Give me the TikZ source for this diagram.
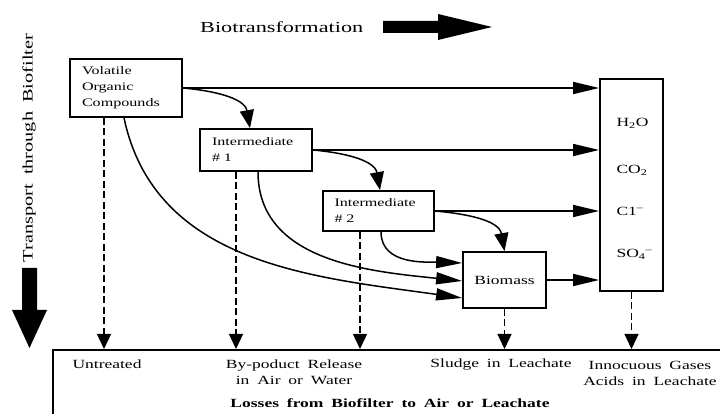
\documentclass[tikz,border=0pt]{standalone}
\usepackage{fontspec}
\usepackage{graphicx}
\setmainfont{Liberation Serif}[FakeStretch=1.4,WordSpace=1.8]
\usetikzlibrary{arrows.meta}

\tikzset{
  box/.style={draw, line width=1.8pt, inner sep=0pt},
  flow/.style={line width=1.5pt, -{Triangle[length=26pt,width=12pt]}},
  turn/.style={line width=1.5pt, -{Triangle[length=18pt,width=14pt]}},
  drop/.style={line width=1.3pt, dash pattern=on 7pt off 3.5pt, -{Triangle[length=15pt,width=14pt]}},
  lbl/.style={font=\fontsize{12.5}{16}\selectfont, align=center},
  inbox/.style={font=\fontsize{11.5}{16}\selectfont, align=left},
}

\begin{document}
\begin{tikzpicture}[x=1pt,y=1pt]
	\useasboundingbox (0,0) rectangle (720,414);
	% die beiden richtungen
	\node[anchor=west, inner sep=0pt] (biotr) at (200,387) {\resizebox{163pt}{10.8pt}{Biotransformation}};
	\fill (383,393) -- (438,393) -- (438,400) -- (492,387) -- (438,374) -- (438,381) -- (383,381) -- cycle;
	\node[rotate=90, font=\fontsize{14.5}{16}\selectfont] (transport) at (29,266) {Transport through Biofilter};
	\fill (22,146) -- (37,146) -- (37,104) -- (47,104) -- (29.5,66) -- (12,104) -- (22,104) -- cycle;
	% die stoffe
	\node[box, inbox, minimum width=112pt, minimum height=58pt, text width=88pt] (voc) at (126,326) {Volatile\\Organic\\Compounds};
	\node[box, inbox, minimum width=112pt, minimum height=42pt, text width=88pt] (int1) at (256,264) {Intermediate\\\# 1};
	\node[box, inbox, minimum width=111pt, minimum height=40pt, text width=88pt] (int2) at (378.5,203) {Intermediate\\\# 2};
	\node[box, lbl, minimum width=83pt, minimum height=56pt] (biomass) at (504.5,134) {Biomass};
	\node[box, minimum width=63pt, minimum height=212pt] (prod) at (631.5,229) {};
	% die endprodukte
	\node[lbl, anchor=west] (h2o) at (613,291) {H\textsubscript{2}O};
	\node[lbl, anchor=west] (co2) at (613,244) {CO\textsubscript{2}};
	\node[lbl, anchor=west] (cl) at (613,203) {C1\textsuperscript{--}};
	\node[lbl, anchor=west] (so4) at (613,160) {SO\textsubscript{4}\textsuperscript{--}};
	% der kasten unten
	\begin{scope}
		\clip (0,0) rectangle (720,414);
		\node[box, anchor=north west, minimum width=700pt, minimum height=90pt] (sink) at (52,65) {};
	\end{scope}
	\node[lbl] (untreated) at (107,50) {Untreated};
	\node[lbl] (byprod) at (294,41.5) {By-poduct Release\\in Air or Water};
	\node[lbl] (sludge) at (501,49) {Sludge in Leachate};
	\node[lbl] (innoc) at (650,41) {Innocuous Gases\\Acids in Leachate};
	\node[lbl, font=\fontsize{12.5}{16}\selectfont\bfseries] (losses) at (390,11) {Losses from Biofilter to Air or Leachate};
	% pfeile zu den endprodukten
	\draw[flow] (voc.east) -- (voc.east -| prod.west);
	\draw[flow] (int1.east) -- (int1.east -| prod.west);
	\draw[flow] (int2.east) -- (int2.east -| prod.west);
	\draw[flow] (biomass.east) -- (biomass.east -| prod.west);
	% abbau von stufe zu stufe
	\draw[turn] (voc.east) to[out=-5, in=100] ([xshift=-6pt]int1.north);
	\draw[turn] (int1.east) to[out=-5, in=100] ([xshift=1.5pt]int2.north);
	\draw[turn] (int2.east) to[out=-5, in=100] (biomass.north);
	% wachstum der biomasse
	\draw[flow] ([xshift=-2pt]voc.south) to[out=-78, in=172] ([yshift=-18pt]biomass.west);
	\draw[flow] ([xshift=2pt]int1.south) to[out=-90, in=174] ([yshift=-1pt]biomass.west);
	\draw[flow] ([xshift=2.5pt]int2.south) to[out=-90, in=178] ([yshift=17pt]biomass.west);
	% verluste nach unten
	\coordinate (vocdrop) at ([xshift=-22pt]voc.south);
	\coordinate (int1drop) at ([xshift=-20pt]int1.south);
	\coordinate (int2drop) at ([xshift=-18.5pt]int2.south);
	\draw[drop] (vocdrop) -- (vocdrop |- sink.north);
	\draw[drop] (int1drop) -- (int1drop |- sink.north);
	\draw[drop] (int2drop) -- (int2drop |- sink.north);
	\draw[drop] (biomass.south) -- (biomass.south |- sink.north);
	\draw[drop] (prod.south) -- (prod.south |- sink.north);
\end{tikzpicture}
\end{document}
